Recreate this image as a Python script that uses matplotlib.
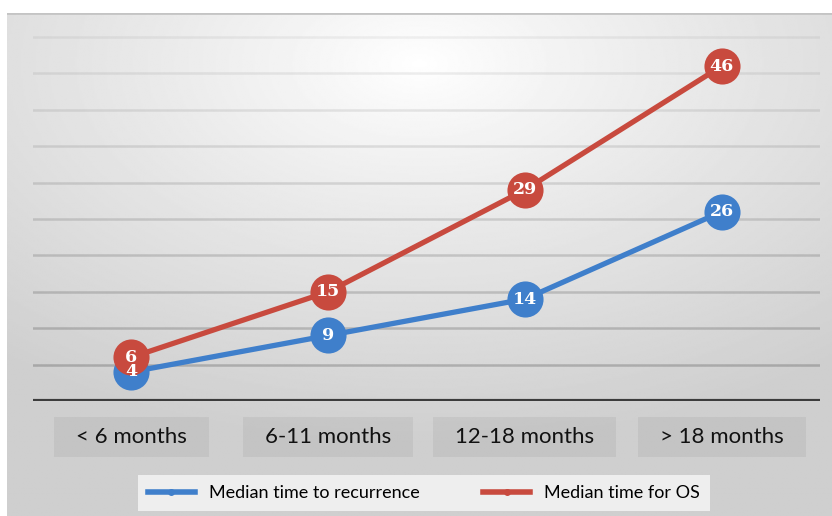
import numpy as np
import matplotlib.pyplot as plt
from matplotlib.lines import Line2D
from matplotlib.patches import Rectangle

categories = ["< 6 months", "6-11 months", "12-18 months", "> 18 months"]
recurrence = [4, 9, 14, 26]
overall_survival = [6, 15, 29, 46]
series_names = ["Median time to recurrence", "Median time for OS"]

blue = "#3F7FCB"
red = "#C84A3E"

W, H = 832, 516
fig = plt.figure(figsize=(W / 100, H / 100), dpi=100)
fig.patch.set_facecolor("white")

# gradient panel behind the chart
bg = fig.add_axes([7 / W, 0, 1 - 7 / W, (H - 13) / H], zorder=0)
yy, xx = np.mgrid[0:1:300j, 0:1:500j]
r = np.sqrt(((xx - 0.5) * 1.0) ** 2 + ((yy - 0.1) * 1.05) ** 2)
shade = 1.0 - 0.19 * np.clip(r / 0.8, 0, 1) ** 0.9
bg.imshow(shade, cmap="gray", vmin=0, vmax=1, aspect="auto",
          extent=[0, 1, 0, 1], origin="upper", interpolation="bilinear")
bg.set_xlim(0, 1)
bg.set_ylim(0, 1)
bg.axis("off")
bg.axhline(1, color="#c4c4c4", lw=2)

ax = fig.add_axes([33 / W, (H - 401) / H, 787 / W, 388 / H], zorder=1)
ax.patch.set_alpha(0)
x = np.arange(len(categories))
ax.set_xlim(-0.5, len(categories) - 0.5)
ax.set_ylim(0, 53.3)
for v in range(5, 55, 5):
    ax.axhline(v, color="black", alpha=0.21 - 0.0032 * v, lw=1.8, zorder=1)
ax.axhline(0, color="#3c3c3c", lw=3, zorder=2)
for s in ax.spines.values():
    s.set_visible(False)
ax.set_xticks([])
ax.set_yticks([])

ax.plot(x, recurrence, color=blue, lw=3.8, marker="o", ms=26,
        mec="none", zorder=3, solid_capstyle="round")
ax.plot(x, overall_survival, color=red, lw=3.8, marker="o", ms=26,
        mec="none", zorder=4, solid_capstyle="round")
for xi, v in zip(x, recurrence):
    ax.text(xi, v, str(v), ha="center", va="center", color="white",
            fontsize=12.5, fontweight="bold", family="DejaVu Serif", zorder=6)
for xi, v in zip(x, overall_survival):
    ax.text(xi, v, str(v), ha="center", va="center", color="white",
            fontsize=12.5, fontweight="bold", family="DejaVu Serif", zorder=6)

# category labels sitting in flat grey boxes
fig.canvas.draw()
renderer = fig.canvas.get_renderer()
for xi, name in zip(x, categories):
    t = ax.text(xi, -5.0, name, ha="center", va="center", fontsize=16,
                family="Lato", color="#111111", clip_on=False, zorder=5)
    bb = t.get_window_extent(renderer)
    cx = (bb.x0 + bb.x1) / 2
    cy = (bb.y0 + bb.y1) / 2
    bw = bb.width + 44
    bh = 40
    fig.add_artist(Rectangle(((cx - bw / 2) / W, (cy - bh / 2) / H), bw / W, bh / H,
                             transform=fig.transFigure, fc="black", alpha=0.05,
                             ec="none", zorder=0.5))

handles = [Line2D([], [], color=blue, lw=4, marker="o", ms=4),
           Line2D([], [], color=red, lw=4, marker="o", ms=4)]
leg = fig.legend(handles, series_names, loc="center", ncol=2,
                 bbox_to_anchor=(424 / W, 1 - 493 / H), frameon=True,
                 prop={"family": "Lato", "size": 13}, handlelength=2.6,
                 columnspacing=3.5, borderpad=0.55, fancybox=False)
leg.get_frame().set_facecolor("#eeeeee")
leg.get_frame().set_edgecolor("none")
leg.get_frame().set_alpha(1)

fig.savefig("out.png", dpi=100)
